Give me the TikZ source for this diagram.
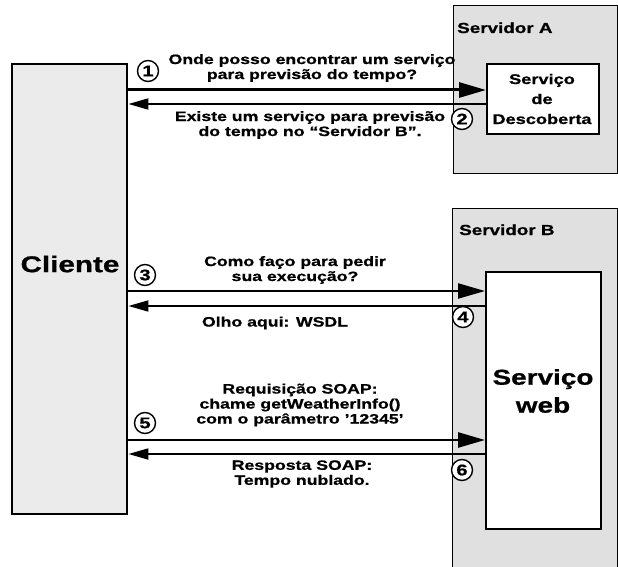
\documentclass[tikz,border=0pt]{standalone}
\usepackage{fontspec}
\setmainfont{Liberation Sans}[FakeStretch=1.3, BoldFeatures={FakeBold=0.8}]
\usetikzlibrary{arrows.meta}
\tikzset{
  box/.style={draw=black, anchor=north west, inner sep=0pt, rectangle},
  server/.style={box, fill=gray!24, line width=1.4pt},
  svc/.style={box, fill=white, line width=1.8pt},
  client/.style={box, fill=gray!16, line width=2.4pt},
  msg/.style={font=\bfseries\fontsize{13.6}{15}\selectfont, align=center, inner sep=0pt},
  numc/.style={circle, draw=black, line width=1.4pt, minimum size=21pt, inner sep=0pt, fill=white,
    font=\bfseries\fontsize{15.5}{15.5}\selectfont},
  reqarrow/.style={line width=2.2pt, -{Triangle[length=27pt,width=15pt]}},
  resarrow/.style={line width=1.8pt, {Triangle[length=20pt,width=11pt]}-},
}
\begin{document}
\begin{tikzpicture}[x=1pt,y=-1pt]
\clip (0,0) rectangle (618,567);
\fill[white] (0,0) rectangle (618,567);
% boxes
\node[server, minimum width=164pt, minimum height=168pt] (srvA) at (453,5) {};
\node[svc, minimum width=112pt, minimum height=70pt] (disc) at (486,63) {};
\node[server, minimum width=165pt, minimum height=380pt] (srvB) at (452,208) {};
\node[svc, minimum width=115pt, minimum height=257pt] (web) at (485,271) {};
\node[client, minimum width=115pt, minimum height=450pt] (cli) at (11,63) {};
% box labels
\node[font=\bfseries\fontsize{14.5}{14.5}\selectfont, anchor=base west, inner sep=0pt] (labA) at (457,33) {Servidor A};
\node[font=\bfseries\fontsize{14}{20}\selectfont, align=center, inner sep=0pt] (labDisc) at (542,99) {Serviço\\de\\Descoberta};
\node[font=\bfseries\fontsize{14.5}{14.5}\selectfont, anchor=base west, inner sep=0pt] (labB) at (459,235) {Servidor B};
\node[font=\bfseries\fontsize{22.8}{22.8}\selectfont, inner sep=0pt] (labCli) at (70,264) {Cliente};
\node[font=\bfseries\fontsize{21.5}{28}\selectfont, align=center, inner sep=0pt] (labWeb) at (543,391) {Serviço\\web};
% arrows
\draw[reqarrow, line width=3pt] (cli.east |- 0,90) -- (disc.west |- 0,90);
\draw[resarrow] (cli.east |- 0,104) -- (disc.west |- 0,104);
\draw[reqarrow] (cli.east |- 0,291) -- (web.west |- 0,291);
\draw[resarrow] (cli.east |- 0,306) -- (web.west |- 0,306);
\draw[reqarrow, line width=2.6pt] (cli.east |- 0,440) -- (web.west |- 0,440);
\draw[resarrow] (cli.east |- 0,454) -- (web.west |- 0,454);
% numbers
\node[numc] (n1) at (148,71) {1};
\node[numc] (n2) at (462,119) {2};
\node[numc] (n3) at (145,275) {3};
\node[numc] (n4) at (463,317) {4};
\node[numc] (n5) at (145,423) {5};
\node[numc] (n6) at (462,470) {6};
% messages
\node[msg] (m1) at (312,68) {Onde posso encontrar um serviço\\para previsão do tempo?};
\node[msg] (m2) at (310,125) {Existe um serviço para previsão\\do tempo no “Servidor B”.};
\node[msg] (m3) at (295,270) {Como faço para pedir\\sua execução?};
\node[msg] (m4) at (275,323) {Olho aqui: WSDL};
\node[msg] (m5) at (300,405) {Requisição SOAP:\\chame getWeatherInfo()\\com o parâmetro ’12345’};
\node[msg] (m6) at (302,474) {Resposta SOAP:\\Tempo nublado.};
\end{tikzpicture}
\end{document}
